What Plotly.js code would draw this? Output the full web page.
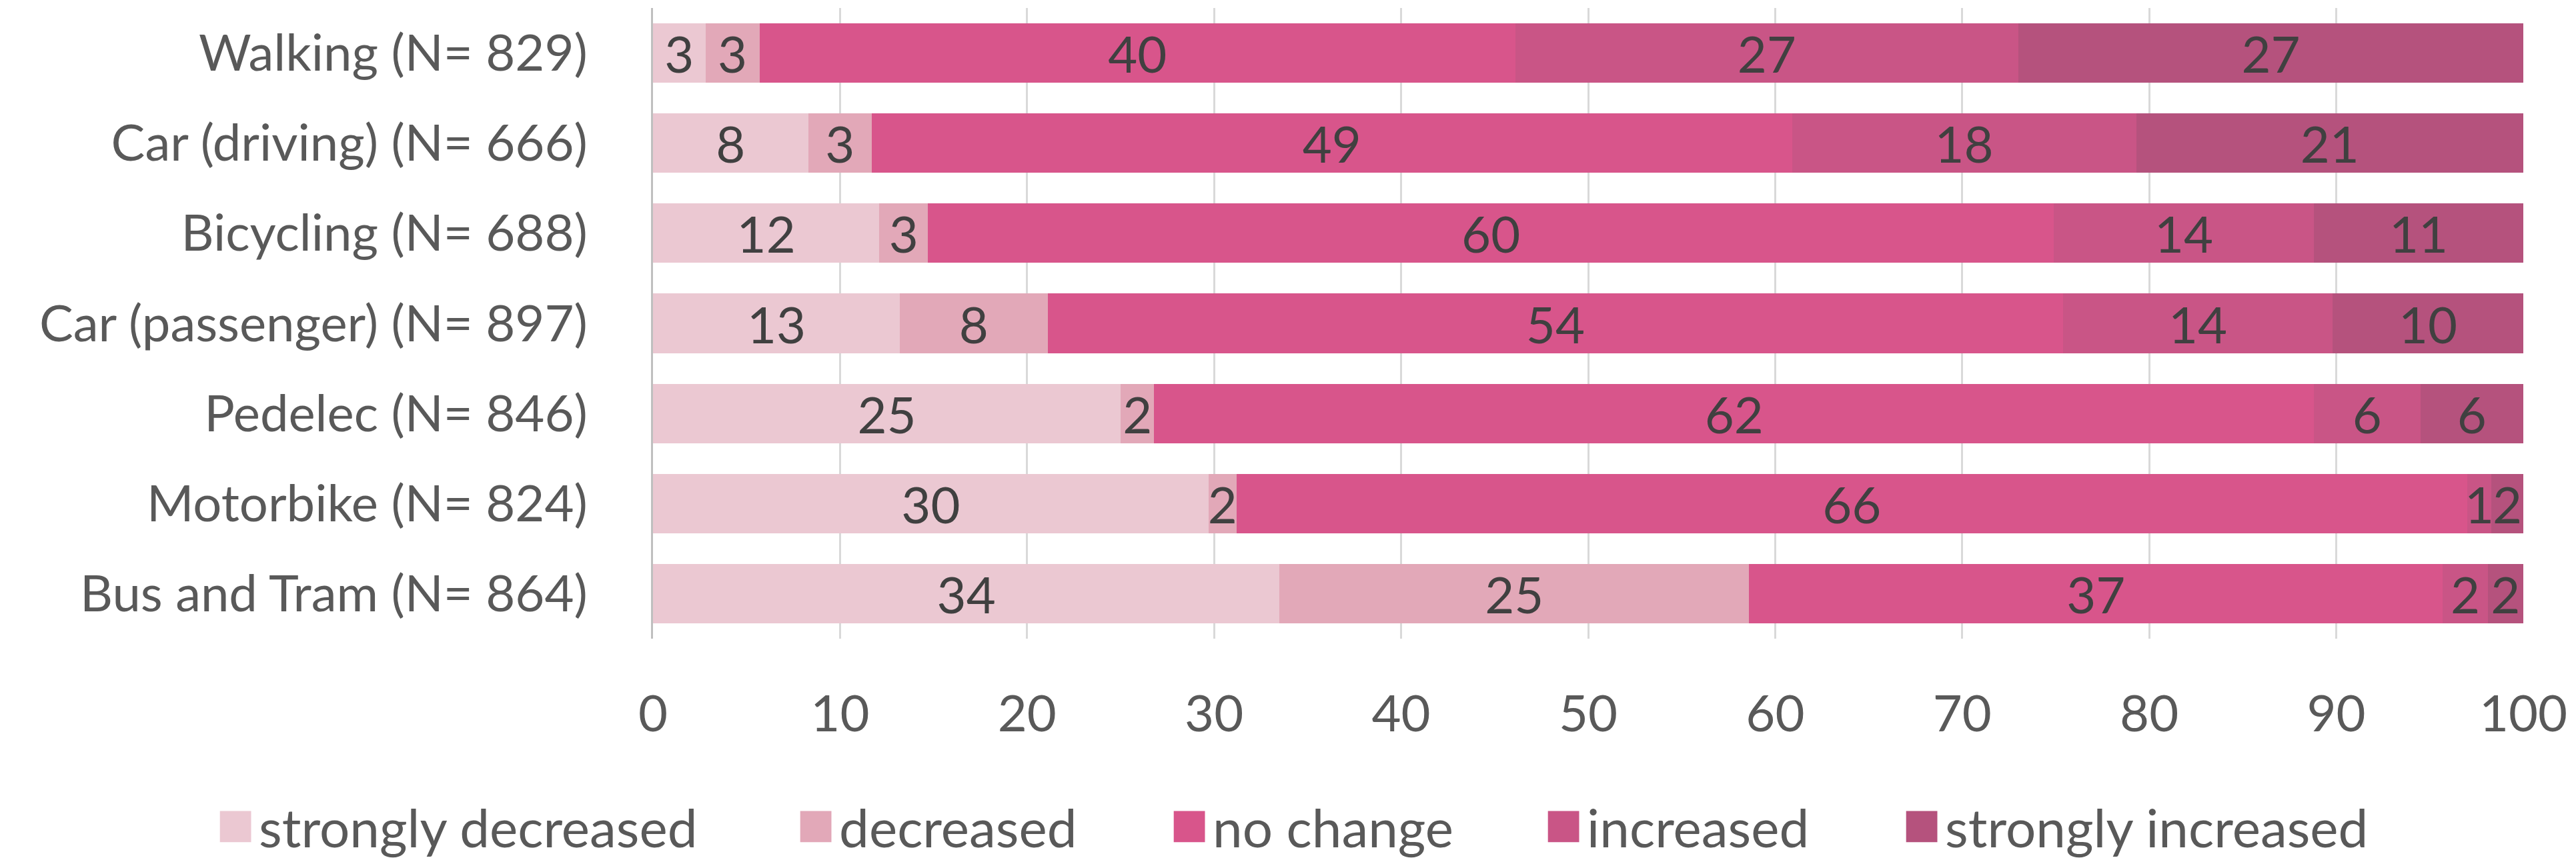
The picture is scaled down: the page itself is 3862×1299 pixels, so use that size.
<!DOCTYPE html>
<html>
<head>
<meta charset="utf-8">
<script src="https://cdn.plot.ly/plotly-3.0.1.min.js"></script>
<style>
  html, body { margin: 0; padding: 0; background: #fff; }
  #chart { width: 3862px; height: 1299px; }
</style>
</head>
<body>
<div id="chart"></div>
<script>
// categories, top to bottom
let modes = [
  "Walking (N= 829)",
  "Car (driving) (N= 666)",
  "Bicycling (N= 688)",
  "Car (passenger) (N= 897)",
  "Pedelec (N= 846)",
  "Motorbike (N= 824)",
  "Bus and Tram (N= 864)"
];

// shares in percent
let stronglyDecreased = [2.8, 8.3, 12.1, 13.2, 25.0, 29.7, 33.5];
let decreased         = [2.9, 3.4, 2.6, 7.9, 1.8, 1.5, 25.1];
let noChange          = [40.4, 49.2, 60.2, 54.3, 62.0, 65.8, 37.1];
let increased         = [26.9, 18.4, 13.9, 14.4, 5.7, 1.3, 2.4];
let stronglyIncreased = [27.0, 20.7, 11.2, 10.2, 5.5, 1.7, 1.9];

let xTicks = [0, 10, 20, 30, 40, 50, 60, 70, 80, 90, 100];

let seriesNames = ["strongly decreased", "decreased", "no change", "increased", "strongly increased"];
let seriesValues = [stronglyDecreased, decreased, noChange, increased, stronglyIncreased];
let seriesColors = ["#EBC8D2", "#E2A8B8", "#D8558B", "#C95586", "#B5527D"];
// text room of each legend entry, so the row spreads like the original
let legendWidths = [795, 485, 486, 462, 642];

let fontFamily = "Lato, 'Open Sans', sans-serif";
let labelSize = 76;

let data = seriesNames.map(function (name, i) {
  return {
    type: "bar",
    orientation: "h",
    name: name,
    y: modes,
    x: seriesValues[i],
    marker: { color: seriesColors[i], line: { width: 0 } },
    texttemplate: "%{x:.0f}",
    textposition: "inside",
    insidetextanchor: "middle",
    textangle: 0,
    textfont: { family: fontFamily, size: labelSize, color: "#404040" },
    legendwidth: legendWidths[i],
    hoverinfo: "skip"
  };
});

let layout = {
  width: 3862,
  height: 1299,
  barmode: "stack",
  bargap: 0.34,
  paper_bgcolor: "#ffffff",
  plot_bgcolor: "#ffffff",
  margin: { l: 979, r: 79, t: 12, b: 341, autoexpand: false },
  font: { family: fontFamily, size: labelSize, color: "#595959" },
  uniformtext: { minsize: labelSize, mode: "show" },
  xaxis: {
    range: [0, 100],
    tickvals: xTicks,
    showgrid: true,
    gridcolor: "#D9D9D9",
    gridwidth: 3,
    zeroline: false,
    showline: false,
    ticks: "",
    ticklabelstandoff: 62,
    tickfont: { family: fontFamily, size: labelSize, color: "#595959" },
    fixedrange: true
  },
  yaxis: {
    type: "category",
    categoryorder: "array",
    categoryarray: modes,
    autorange: "reversed",
    showgrid: false,
    zeroline: false,
    showline: true,
    linecolor: "#BFBFBF",
    linewidth: 3,
    ticks: "",
    ticklabelstandoff: 80,
    tickfont: { family: fontFamily, size: labelSize, color: "#595959" },
    fixedrange: true
  },
  showlegend: true,
  legend: {
    orientation: "h",
    x: -0.2357,
    xanchor: "left",
    y: -0.298,
    yanchor: "middle",
    traceorder: "normal",
    itemwidth: 60,
    font: { family: fontFamily, size: 80, color: "#595959" },
    bgcolor: "rgba(0,0,0,0)"
  }
};

Plotly.newPlot("chart", data, layout, { displayModeBar: false, staticPlot: true }).then(function (gd) {
  // make the legend swatches as big as the text
  gd.querySelectorAll(".legendpoints path").forEach(function (p) {
    let t = p.getAttribute("transform") || "";
    p.setAttribute("transform", t + " scale(3.9)");
  });
});
</script>
</body>
</html>
